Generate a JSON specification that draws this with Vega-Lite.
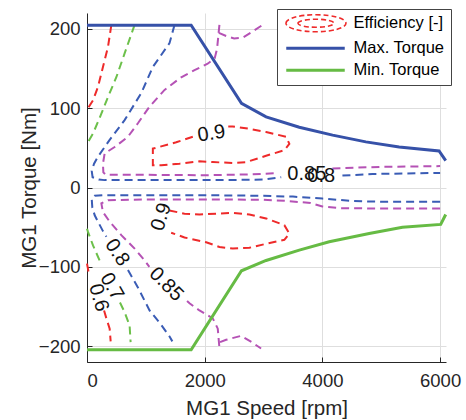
{
  "$schema": "https://vega.github.io/schema/vega-lite/v6.json",
  "width": 359,
  "height": 349,
  "autosize": "none",
  "padding": {"left": 87, "top": 13, "right": 20, "bottom": 58},
  "background": "white",
  "config": {
    "view": {"stroke": null},
    "font": "Liberation Sans",
    "axis": {
      "labelFont": "Liberation Sans", "labelFontSize": 18.5, "labelColor": "#262626",
      "titleFont": "Liberation Sans", "titleFontSize": 20.5, "titleFontWeight": "normal", "titleColor": "#262626",
      "domainColor": "#262626", "domainWidth": 1,
      "tickColor": "#262626", "tickSize": -5, "tickWidth": 1,
      "gridColor": "#dedede", "gridWidth": 1
    }
  },
  "datasets": {
    "contours": [
      {"level":"0.6","seg":"r6t","i":0,"rpm":414,"torque":205},{"level":"0.6","seg":"r6t","i":1,"rpm":356,"torque":177},{"level":"0.6","seg":"r6t","i":2,"rpm":271,"torque":152},{"level":"0.6","seg":"r6t","i":3,"rpm":187,"torque":127},{"level":"0.6","seg":"r6t","i":4,"rpm":102,"torque":110},{"level":"0.6","seg":"r6t","i":5,"rpm":17,"torque":100},{"level":"0.6","seg":"r6t","i":6,"rpm":0,"torque":97},
      {"level":"0.6","seg":"r6b1","i":0,"rpm":0,"torque":-96},{"level":"0.6","seg":"r6b1","i":1,"rpm":25,"torque":-106},
      {"level":"0.6","seg":"r6b2","i":0,"rpm":290,"torque":-155},{"level":"0.6","seg":"r6b2","i":1,"rpm":329,"torque":-165},{"level":"0.6","seg":"r6b2","i":2,"rpm":385,"torque":-178},{"level":"0.6","seg":"r6b2","i":3,"rpm":402,"torque":-194},
      {"level":"0.7","seg":"g7t","i":0,"rpm":809,"torque":205},{"level":"0.7","seg":"g7t","i":1,"rpm":639,"torque":169},{"level":"0.7","seg":"g7t","i":2,"rpm":498,"torque":139},{"level":"0.7","seg":"g7t","i":3,"rpm":356,"torque":114},{"level":"0.7","seg":"g7t","i":4,"rpm":244,"torque":93},{"level":"0.7","seg":"g7t","i":5,"rpm":102,"torque":68},{"level":"0.7","seg":"g7t","i":6,"rpm":0,"torque":55},
      {"level":"0.7","seg":"g7b1","i":0,"rpm":0,"torque":-52},{"level":"0.7","seg":"g7b1","i":1,"rpm":17,"torque":-56},{"level":"0.7","seg":"g7b1","i":2,"rpm":102,"torque":-73},{"level":"0.7","seg":"g7b1","i":3,"rpm":215,"torque":-92},
      {"level":"0.7","seg":"g7b2","i":0,"rpm":560,"torque":-145},{"level":"0.7","seg":"g7b2","i":1,"rpm":639,"torque":-157},{"level":"0.7","seg":"g7b2","i":2,"rpm":724,"torque":-174},{"level":"0.7","seg":"g7b2","i":3,"rpm":741,"torque":-195},
      {"level":"0.8","seg":"b8t1","i":0,"rpm":1487,"torque":205},{"level":"0.8","seg":"b8t1","i":1,"rpm":1402,"torque":182},{"level":"0.8","seg":"b8t1","i":2,"rpm":1119,"torque":152},{"level":"0.8","seg":"b8t1","i":3,"rpm":922,"torque":119},{"level":"0.8","seg":"b8t1","i":4,"rpm":639,"torque":85},{"level":"0.8","seg":"b8t1","i":5,"rpm":385,"torque":60},{"level":"0.8","seg":"b8t1","i":6,"rpm":187,"torque":39},{"level":"0.8","seg":"b8t1","i":7,"rpm":120,"torque":30},{"level":"0.8","seg":"b8t1","i":8,"rpm":80,"torque":21},{"level":"0.8","seg":"b8t1","i":9,"rpm":95,"torque":13},{"level":"0.8","seg":"b8t1","i":10,"rpm":200,"torque":10},{"level":"0.8","seg":"b8t1","i":11,"rpm":300,"torque":9.3},{"level":"0.8","seg":"b8t1","i":12,"rpm":1500,"torque":9.3},{"level":"0.8","seg":"b8t1","i":13,"rpm":2500,"torque":9.5},{"level":"0.8","seg":"b8t1","i":14,"rpm":3000,"torque":10},{"level":"0.8","seg":"b8t1","i":15,"rpm":3300,"torque":13},
      {"level":"0.8","seg":"b8t2","i":0,"rpm":4340,"torque":15},{"level":"0.8","seg":"b8t2","i":1,"rpm":4850,"torque":17},{"level":"0.8","seg":"b8t2","i":2,"rpm":6000,"torque":18.4},
      {"level":"0.8","seg":"b8b1","i":0,"rpm":6000,"torque":-18},{"level":"0.8","seg":"b8b1","i":1,"rpm":5000,"torque":-18},{"level":"0.8","seg":"b8b1","i":2,"rpm":4500,"torque":-17},{"level":"0.8","seg":"b8b1","i":3,"rpm":4000,"torque":-14},{"level":"0.8","seg":"b8b1","i":4,"rpm":3500,"torque":-11.5},{"level":"0.8","seg":"b8b1","i":5,"rpm":3000,"torque":-10.5},{"level":"0.8","seg":"b8b1","i":6,"rpm":2500,"torque":-10},{"level":"0.8","seg":"b8b1","i":7,"rpm":1500,"torque":-9.7},{"level":"0.8","seg":"b8b1","i":8,"rpm":300,"torque":-9.7},{"level":"0.8","seg":"b8b1","i":9,"rpm":130,"torque":-10.5},{"level":"0.8","seg":"b8b1","i":10,"rpm":80,"torque":-14},{"level":"0.8","seg":"b8b1","i":11,"rpm":90,"torque":-25},{"level":"0.8","seg":"b8b1","i":12,"rpm":131,"torque":-35},{"level":"0.8","seg":"b8b1","i":13,"rpm":200,"torque":-45},{"level":"0.8","seg":"b8b1","i":14,"rpm":271,"torque":-55},{"level":"0.8","seg":"b8b1","i":15,"rpm":330,"torque":-62},
      {"level":"0.8","seg":"b8b2","i":0,"rpm":696,"torque":-104},{"level":"0.8","seg":"b8b2","i":1,"rpm":865,"torque":-126},{"level":"0.8","seg":"b8b2","i":2,"rpm":1063,"torque":-155},{"level":"0.8","seg":"b8b2","i":3,"rpm":1250,"torque":-172},{"level":"0.8","seg":"b8b2","i":4,"rpm":1403,"torque":-188},{"level":"0.8","seg":"b8b2","i":5,"rpm":1450,"torque":-194},
      {"level":"0.85","seg":"m85tA","i":0,"rpm":2250,"torque":205},{"level":"0.85","seg":"m85tA","i":1,"rpm":2230,"torque":190},{"level":"0.85","seg":"m85tA","i":2,"rpm":2210,"torque":175},{"level":"0.85","seg":"m85tA","i":3,"rpm":2170,"torque":163},{"level":"0.85","seg":"m85tA","i":4,"rpm":2050,"torque":156},{"level":"0.85","seg":"m85tA","i":5,"rpm":1827,"torque":148},{"level":"0.85","seg":"m85tA","i":6,"rpm":1601,"torque":139},{"level":"0.85","seg":"m85tA","i":7,"rpm":1318,"torque":123},{"level":"0.85","seg":"m85tA","i":8,"rpm":1063,"torque":102},{"level":"0.85","seg":"m85tA","i":9,"rpm":865,"torque":81},{"level":"0.85","seg":"m85tA","i":10,"rpm":696,"torque":64},{"level":"0.85","seg":"m85tA","i":11,"rpm":470,"torque":51},{"level":"0.85","seg":"m85tA","i":12,"rpm":300,"torque":43},{"level":"0.85","seg":"m85tA","i":13,"rpm":271,"torque":30},{"level":"0.85","seg":"m85tA","i":14,"rpm":278,"torque":19},{"level":"0.85","seg":"m85tA","i":15,"rpm":320,"torque":16},{"level":"0.85","seg":"m85tA","i":16,"rpm":1000,"torque":16},{"level":"0.85","seg":"m85tA","i":17,"rpm":2000,"torque":15.5},{"level":"0.85","seg":"m85tA","i":18,"rpm":2800,"torque":16.5},{"level":"0.85","seg":"m85tA","i":19,"rpm":3210,"torque":18},
      {"level":"0.85","seg":"m85tB","i":0,"rpm":4170,"torque":24},{"level":"0.85","seg":"m85tB","i":1,"rpm":5000,"torque":26},{"level":"0.85","seg":"m85tB","i":2,"rpm":6000,"torque":27},
      {"level":"0.85","seg":"m85tC","i":0,"rpm":2240,"torque":195},{"level":"0.85","seg":"m85tC","i":1,"rpm":2364,"torque":191},{"level":"0.85","seg":"m85tC","i":2,"rpm":2500,"torque":188},{"level":"0.85","seg":"m85tC","i":3,"rpm":2646,"torque":189},{"level":"0.85","seg":"m85tC","i":4,"rpm":2800,"torque":196},{"level":"0.85","seg":"m85tC","i":5,"rpm":2985,"torque":205},
      {"level":"0.85","seg":"m85b1","i":0,"rpm":6000,"torque":-26.5},{"level":"0.85","seg":"m85b1","i":1,"rpm":5000,"torque":-26.5},{"level":"0.85","seg":"m85b1","i":2,"rpm":4300,"torque":-26},{"level":"0.85","seg":"m85b1","i":3,"rpm":4000,"torque":-24},{"level":"0.85","seg":"m85b1","i":4,"rpm":3800,"torque":-19.5},{"level":"0.85","seg":"m85b1","i":5,"rpm":3400,"torque":-17},{"level":"0.85","seg":"m85b1","i":6,"rpm":3000,"torque":-15.5},{"level":"0.85","seg":"m85b1","i":7,"rpm":2000,"torque":-15},{"level":"0.85","seg":"m85b1","i":8,"rpm":1000,"torque":-15},{"level":"0.85","seg":"m85b1","i":9,"rpm":356,"torque":-16},{"level":"0.85","seg":"m85b1","i":10,"rpm":244,"torque":-20},{"level":"0.85","seg":"m85b1","i":11,"rpm":271,"torque":-31},{"level":"0.85","seg":"m85b1","i":12,"rpm":385,"torque":-43},{"level":"0.85","seg":"m85b1","i":13,"rpm":583,"torque":-60},{"level":"0.85","seg":"m85b1","i":14,"rpm":809,"torque":-77},{"level":"0.85","seg":"m85b1","i":15,"rpm":979,"torque":-92},{"level":"0.85","seg":"m85b1","i":16,"rpm":1060,"torque":-100},
      {"level":"0.85","seg":"m85b2","i":0,"rpm":1700,"torque":-143},{"level":"0.85","seg":"m85b2","i":1,"rpm":1742,"torque":-146},{"level":"0.85","seg":"m85b2","i":2,"rpm":1911,"torque":-155},{"level":"0.85","seg":"m85b2","i":3,"rpm":2137,"torque":-165},{"level":"0.85","seg":"m85b2","i":4,"rpm":2222,"torque":-178},{"level":"0.85","seg":"m85b2","i":5,"rpm":2251,"torque":-203},
      {"level":"0.85","seg":"m85b3","i":0,"rpm":2260,"torque":-195},{"level":"0.85","seg":"m85b3","i":1,"rpm":2364,"torque":-192},{"level":"0.85","seg":"m85b3","i":2,"rpm":2619,"torque":-187},{"level":"0.85","seg":"m85b3","i":3,"rpm":2800,"torque":-195},{"level":"0.85","seg":"m85b3","i":4,"rpm":2958,"torque":-203},
      {"level":"0.9","seg":"r9t","i":0,"rpm":1798,"torque":64},{"level":"0.9","seg":"r9t","i":1,"rpm":1516,"torque":57},{"level":"0.9","seg":"r9t","i":2,"rpm":1119,"torque":49},{"level":"0.9","seg":"r9t","i":3,"rpm":1119,"torque":28},{"level":"0.9","seg":"r9t","i":4,"rpm":1262,"torque":28},{"level":"0.9","seg":"r9t","i":5,"rpm":1572,"torque":30},{"level":"0.9","seg":"r9t","i":6,"rpm":1911,"torque":33},{"level":"0.9","seg":"r9t","i":7,"rpm":2137,"torque":32},{"level":"0.9","seg":"r9t","i":8,"rpm":2476,"torque":31},{"level":"0.9","seg":"r9t","i":9,"rpm":2704,"torque":32},{"level":"0.9","seg":"r9t","i":10,"rpm":3043,"torque":40},{"level":"0.9","seg":"r9t","i":11,"rpm":3353,"torque":47},{"level":"0.9","seg":"r9t","i":12,"rpm":3438,"torque":55},{"level":"0.9","seg":"r9t","i":13,"rpm":3382,"torque":64},{"level":"0.9","seg":"r9t","i":14,"rpm":3043,"torque":70},{"level":"0.9","seg":"r9t","i":15,"rpm":2759,"torque":74},{"level":"0.9","seg":"r9t","i":16,"rpm":2476,"torque":77},{"level":"0.9","seg":"r9t","i":17,"rpm":2400,"torque":77},
      {"level":"0.9","seg":"r9b","i":0,"rpm":1400,"torque":-29},{"level":"0.9","seg":"r9b","i":1,"rpm":1657,"torque":-33},{"level":"0.9","seg":"r9b","i":2,"rpm":1911,"torque":-34},{"level":"0.9","seg":"r9b","i":3,"rpm":2476,"torque":-32},{"level":"0.9","seg":"r9b","i":4,"rpm":2759,"torque":-34},{"level":"0.9","seg":"r9b","i":5,"rpm":3043,"torque":-39},{"level":"0.9","seg":"r9b","i":6,"rpm":3353,"torque":-47.5},{"level":"0.9","seg":"r9b","i":7,"rpm":3438,"torque":-58},{"level":"0.9","seg":"r9b","i":8,"rpm":3353,"torque":-66},{"level":"0.9","seg":"r9b","i":9,"rpm":3043,"torque":-71},{"level":"0.9","seg":"r9b","i":10,"rpm":2759,"torque":-76},{"level":"0.9","seg":"r9b","i":11,"rpm":2476,"torque":-77},{"level":"0.9","seg":"r9b","i":12,"rpm":2251,"torque":-75},{"level":"0.9","seg":"r9b","i":13,"rpm":2025,"torque":-69},{"level":"0.9","seg":"r9b","i":14,"rpm":1657,"torque":-63},{"level":"0.9","seg":"r9b","i":15,"rpm":1430,"torque":-57}
    ],
    "limits": [
      {"series":"Max. Torque","i":0,"rpm":0,"torque":204.5},{"series":"Max. Torque","i":1,"rpm":1770,"torque":204.5},{"series":"Max. Torque","i":2,"rpm":2625,"torque":106},{"series":"Max. Torque","i":3,"rpm":3043,"torque":89},{"series":"Max. Torque","i":4,"rpm":3607,"torque":76},{"series":"Max. Torque","i":5,"rpm":4173,"torque":66},{"series":"Max. Torque","i":6,"rpm":4738,"torque":57.5},{"series":"Max. Torque","i":7,"rpm":5304,"torque":51},{"series":"Max. Torque","i":8,"rpm":5982,"torque":46},{"series":"Max. Torque","i":9,"rpm":6095,"torque":34},
      {"series":"Min. Torque","i":0,"rpm":0,"torque":-204.5},{"series":"Min. Torque","i":1,"rpm":1770,"torque":-204.5},{"series":"Min. Torque","i":2,"rpm":2625,"torque":-105},{"series":"Min. Torque","i":3,"rpm":3043,"torque":-92},{"series":"Min. Torque","i":4,"rpm":3607,"torque":-79},{"series":"Min. Torque","i":5,"rpm":4116,"torque":-68.5},{"series":"Min. Torque","i":6,"rpm":4795,"torque":-58},{"series":"Min. Torque","i":7,"rpm":5360,"torque":-50},{"series":"Min. Torque","i":8,"rpm":6010,"torque":-46.5},{"series":"Min. Torque","i":9,"rpm":6095,"torque":-34}
    ],
    "labels": [
      {"k":"t9","txt":"0.9","rpm":2115,"torque":68},
      {"k":"t85","txt":"0.85","rpm":3735,"torque":17.4},
      {"k":"t8","txt":"0.8","rpm":3980,"torque":14.9},
      {"k":"b9","txt":"0.9","rpm":1262,"torque":-37},
      {"k":"b8","txt":"0.8","rpm":512,"torque":-82},
      {"k":"b85","txt":"0.85","rpm":1347,"torque":-122},
      {"k":"b7","txt":"0.7","rpm":421,"torque":-125},
      {"k":"b6","txt":"0.6","rpm":198,"torque":-139}
    ]
  },
  "encoding": {
    "x": {"field": "rpm", "type": "quantitative", "scale": {"domain": [0, 6100], "nice": false, "zero": false},
          "axis": {"values": [0, 2000, 4000, 6000], "format": "d", "title": "MG1 Speed [rpm]", "labelPadding": 14, "titlePadding": 9}},
    "y": {"field": "torque", "type": "quantitative", "scale": {"domain": [-220, 220], "nice": false, "zero": false},
          "axis": {"values": [-200, -100, 0, 100, 200], "format": "d", "title": "MG1 Torque [Nm]", "labelPadding": 12, "titlePadding": -1}}
  },
  "layer": [
    {
      "data": {"name": "contours"},
      "mark": {"type": "line", "strokeDash": [8, 5], "strokeWidth": 2, "clip": false},
      "encoding": {
        "detail": {"field": "seg"},
        "order": {"field": "i", "type": "quantitative"},
        "color": {"field": "level", "type": "nominal",
                  "scale": {"domain": ["0.6", "0.7", "0.8", "0.85", "0.9"], "range": ["#ee2a2a", "#6cc04a", "#3a5cb5", "#b552b5", "#ee2a2a"]},
                  "legend": null}
      }
    },
    {
      "data": {"name": "limits"},
      "mark": {"type": "line", "strokeWidth": 3},
      "encoding": {
        "detail": {"field": "series"},
        "order": {"field": "i", "type": "quantitative"},
        "color": {"field": "series", "type": "nominal",
                  "scale": {"domain": ["Efficiency [-]", "Max. Torque", "Min. Torque"], "range": ["#ee2a2a", "#3651a8", "#66bb44"]},
                  "legend": {
                    "title": null, "orient": "none", "legendX": 190, "legendY": -4,
                    "symbolType": "M-1,0L10.7,0", "symbolSize": 100, "symbolStrokeWidth": 3,
                    "labelFont": "Liberation Sans", "labelFontSize": 16.5, "labelColor": "#000000", "labelOffset": 54,
                    "rowPadding": 5, "padding": 6, "strokeColor": "#444444", "fillColor": "#ffffff",
                    "encode": {"symbols": {"update": {
                      "shape": {"signal": "datum.value === 'Efficiency [-]' ? 'M-1.06,0A6,1.7 0 1 1 10.94,0A6,1.7 0 1 1 -1.06,0M1.34,0A3.6,0.8 0 1 1 8.54,0A3.6,0.8 0 1 1 1.34,0' : 'M-1,0L10.7,0'"},
                      "strokeDash": {"signal": "datum.value === 'Efficiency [-]' ? [5, 3] : [1, 0]"},
                      "strokeWidth": {"signal": "datum.value === 'Efficiency [-]' ? 1.6 : 3"},
                      "fill": {"value": "transparent"}
                    }}}
                  }}
      }
    },
    {"data": {"name": "labels"}, "transform": [{"filter": "datum.k === 't9'"}], "mark": {"type": "text", "fontSize": 20, "angle": 352, "color": "#111111"}, "encoding": {"text": {"field": "txt"}}},
    {"data": {"name": "labels"}, "transform": [{"filter": "datum.k === 't85' || datum.k === 't8'"}], "mark": {"type": "text", "fontSize": 20, "angle": 0, "color": "#111111"}, "encoding": {"text": {"field": "txt"}}},
    {"data": {"name": "labels"}, "transform": [{"filter": "datum.k === 'b9'"}], "mark": {"type": "text", "fontSize": 20, "angle": 288, "color": "#111111"}, "encoding": {"text": {"field": "txt"}}},
    {"data": {"name": "labels"}, "transform": [{"filter": "datum.k === 'b8'"}], "mark": {"type": "text", "fontSize": 20, "angle": 56, "color": "#111111"}, "encoding": {"text": {"field": "txt"}}},
    {"data": {"name": "labels"}, "transform": [{"filter": "datum.k === 'b85'"}], "mark": {"type": "text", "fontSize": 20, "angle": 45, "color": "#111111"}, "encoding": {"text": {"field": "txt"}}},
    {"data": {"name": "labels"}, "transform": [{"filter": "datum.k === 'b7'"}], "mark": {"type": "text", "fontSize": 20, "angle": 60, "color": "#111111"}, "encoding": {"text": {"field": "txt"}}},
    {"data": {"name": "labels"}, "transform": [{"filter": "datum.k === 'b6'"}], "mark": {"type": "text", "fontSize": 20, "angle": 74, "color": "#111111"}, "encoding": {"text": {"field": "txt"}}}
  ],
  "resolve": {"scale": {"color": "independent"}}
}
